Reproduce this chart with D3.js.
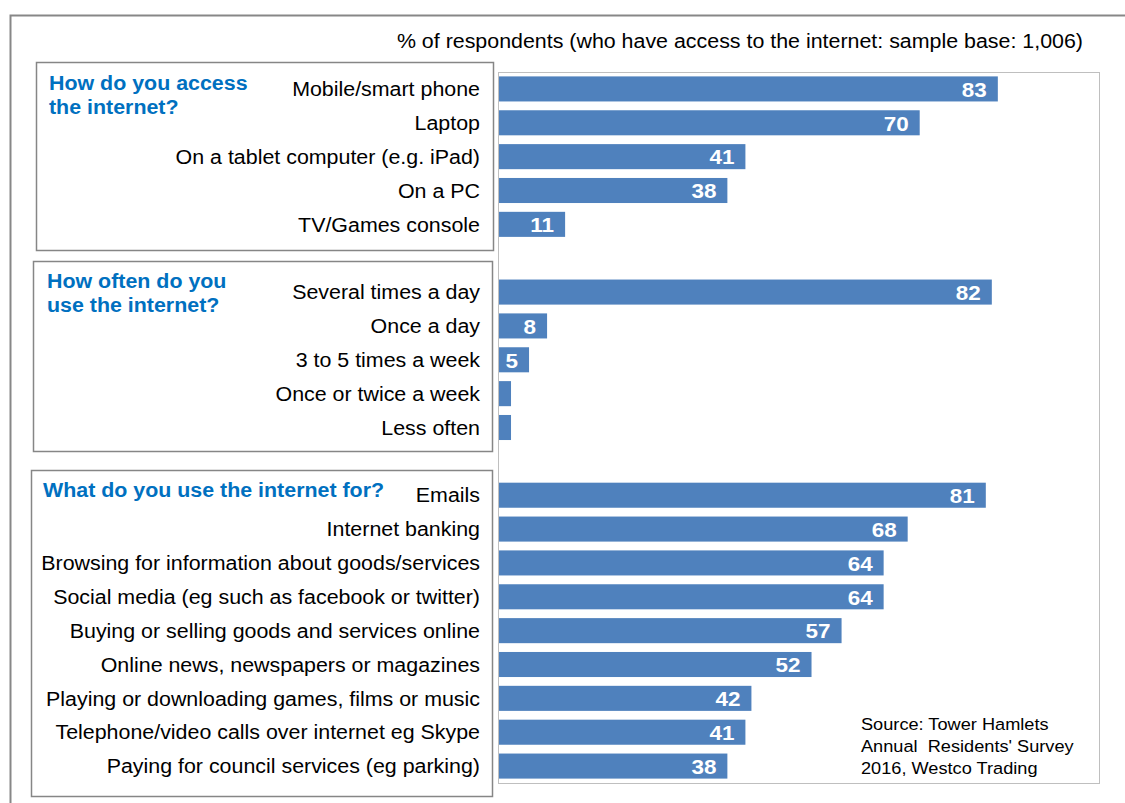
<!DOCTYPE html>
<html>
<head>
<meta charset="utf-8">
<script src="https://cdn.jsdelivr.net/npm/d3@7"></script>
<style>
  html, body { margin: 0; padding: 0; background: #fff; }
  svg { display: block; font-family: "Liberation Sans", Arial, sans-serif; }
</style>
</head>
<body>
<svg id="chart" width="1125" height="803"></svg>
<script>
// Survey answers, % of respondents with internet access
const accessCategories = ["Mobile/smart phone", "Laptop", "On a tablet computer (e.g. iPad)", "On a PC", "TV/Games console"];
const accessValues = [83, 70, 41, 38, 11];

const frequencyCategories = ["Several times a day", "Once a day", "3 to 5 times a week", "Once or twice a week", "Less often"];
const frequencyValues = [82, 8, 5, 2, 2];

const usageCategories = ["Emails", "Internet banking", "Browsing for information about goods/services",
  "Social media (eg such as facebook or twitter)", "Buying or selling goods and services online",
  "Online news, newspapers or magazines", "Playing or downloading games, films or music",
  "Telephone/video calls over internet eg Skype", "Paying for council services (eg parking)"];
const usageValues = [81, 68, 64, 64, 57, 52, 42, 41, 38];

const groupTitles = [["How do you access", "the internet?"], ["How often do you", "use the internet?"], ["What do you use the internet for?"]];

const headerText = "% of respondents (who have access to the internet: sample base: 1,006)";
const sourceLines = ["Source: Tower Hamlets", "Annual  Residents' Survey", "2016, Westco Trading"];

// Build row list, with an empty spacer slot between question groups
const groups = [
  { cats: accessCategories, vals: accessValues },
  { cats: frequencyCategories, vals: frequencyValues },
  { cats: usageCategories, vals: usageValues }
];
const rows = [];
groups.forEach((g, gi) => {
  if (gi > 0) rows.push({ key: "spacer" + gi, label: null, value: null });
  g.cats.forEach((c, i) => rows.push({ key: c, label: c, value: g.vals[i], group: gi }));
});

const svg = d3.select("#chart");
const blue = "#4f81bd";
const titleBlue = "#0070c0";
const textStretch = 1.07; // slightly wide lettering

const plot = { left: 499, right: 1100, top: 72, bottom: 783 };

const x = d3.scaleLinear().domain([0, 100]).range([plot.left, plot.right]);
const y = d3.scaleBand().domain(rows.map(r => r.key)).range([plot.top, plot.bottom])
  .paddingInner(0.26).paddingOuter(0.13);

// position a text element by transform so it can be widened horizontally
function place(sel, fx, fy) {
  sel.attr("x", 0).attr("y", 0)
    .attr("transform", (d, i) => `translate(${typeof fx === "function" ? fx(d, i) : fx},${typeof fy === "function" ? fy(d, i) : fy}) scale(${textStretch},1)`);
}

// Outer frame (open on right and bottom)
svg.append("path")
  .attr("d", "M10.5,803 V15.5 H1125")
  .attr("fill", "none").attr("stroke", "#878787").attr("stroke-width", 2);

// Plot area border
svg.append("rect")
  .attr("x", plot.left - 0.5).attr("y", plot.top + 0.5)
  .attr("width", plot.right - plot.left).attr("height", plot.bottom - plot.top)
  .attr("fill", "none").attr("stroke", "#bfbfbf").attr("stroke-width", 1);

// Header
svg.append("text")
  .call(place, 1083, 41)
  .attr("text-anchor", "end").attr("dominant-baseline", "central")
  .attr("font-size", 20).attr("fill", "#000")
  .text(headerText);

// Group boxes with question titles
const boxes = [
  { x0: 36, y0: 62, x1: 493, y1: 250, tx: 49, ty: 82 },
  { x0: 33, y0: 261, x1: 492, y1: 451, tx: 47, ty: 280 },
  { x0: 31, y0: 470, x1: 492, y1: 796, tx: 43, ty: 489 }
];
boxes.forEach((b, i) => {
  svg.append("rect")
    .attr("x", b.x0 + 0.5).attr("y", b.y0 + 0.5)
    .attr("width", b.x1 - b.x0).attr("height", b.y1 - b.y0)
    .attr("fill", "none").attr("stroke", "#868686").attr("stroke-width", 1.5);
  const t = svg.append("text")
    .call(place, b.tx, b.ty)
    .attr("dominant-baseline", "central")
    .attr("font-size", 20).attr("font-weight", "bold").attr("fill", titleBlue);
  groupTitles[i].forEach((line, li) => {
    t.append("tspan").attr("x", 0).attr("dy", li === 0 ? 0 : 24).text(line);
  });
});

const dataRows = rows.filter(r => r.label !== null);

// Category labels
svg.append("g").selectAll("text")
  .data(dataRows).join("text")
  .call(place, 480, d => y(d.key) + y.bandwidth() / 2)
  .attr("text-anchor", "end").attr("dominant-baseline", "central")
  .attr("font-size", 20).attr("fill", "#000")
  .text(d => d.label);

// Bars
svg.append("g").selectAll("rect")
  .data(dataRows).join("rect")
  .attr("x", x(0))
  .attr("y", d => y(d.key))
  .attr("width", d => x(d.value) - x(0))
  .attr("height", y.bandwidth())
  .attr("fill", blue);

// Value labels inside bar ends
svg.append("g").selectAll("text")
  .data(dataRows.filter(d => d.value >= 4)).join("text")
  .call(place, d => x(d.value) - 11, d => y(d.key) + y.bandwidth() / 2 + 0.5)
  .attr("text-anchor", "end").attr("dominant-baseline", "central")
  .attr("font-size", 21).attr("font-weight", "bold").attr("fill", "#fff")
  .text(d => d.value);

// Source note
svg.append("text")
  .call(place, 861, 724)
  .attr("dominant-baseline", "central")
  .attr("font-size", 17).attr("fill", "#000")
  .style("white-space", "pre")
  .selectAll("tspan").data(sourceLines).join("tspan")
  .attr("x", 0).attr("dy", (d, i) => i === 0 ? 0 : 22)
  .text(d => d);
</script>
</body>
</html>
